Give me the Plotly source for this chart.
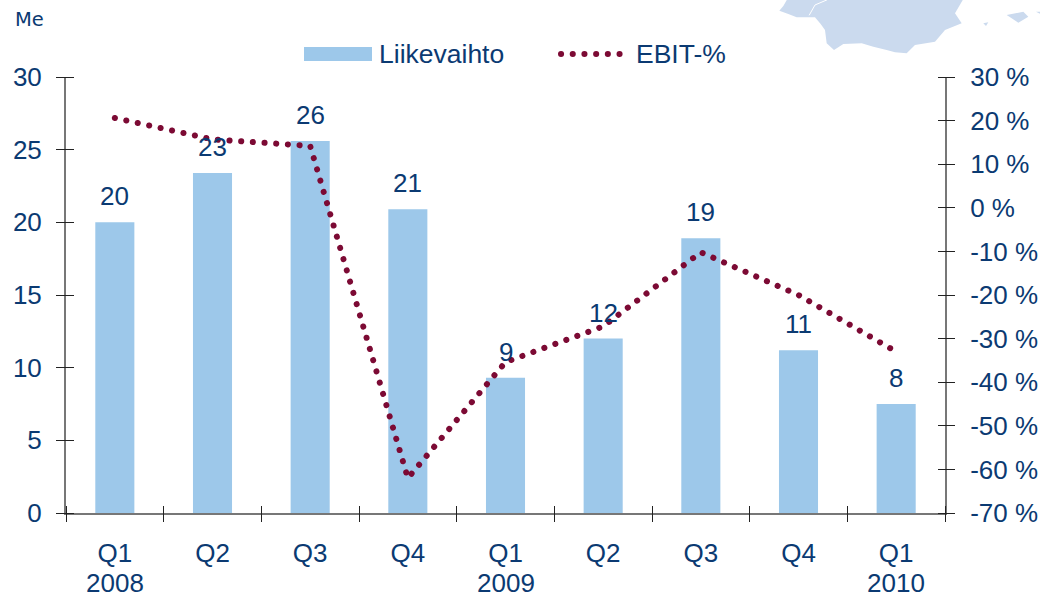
import plotly.graph_objects as go

quarters = ["Q1", "Q2", "Q3", "Q4", "Q1", "Q2", "Q3", "Q4", "Q1"]
years = ["2008", "", "", "", "2009", "", "", "", "2010"]
revenue = [20, 23.4, 25.6, 20.9, 9.3, 12, 18.9, 11.2, 7.5]
ebit_pct = [20.6, 15.7, 14.2, -62, -35.4, -27.2, -10.2, -20, -33]
left_ticks = [0, 5, 10, 15, 20, 25, 30]
right_ticks = [-70, -60, -50, -40, -30, -20, -10, 0, 10, 20, 30]
right_labels = [f"{v} %" for v in right_ticks]

W, H = 1040, 597
L, R, T, B = 66, 945, 77, 513
TXT = "#0b3a72"
AXIS = "#777777"
BAR = "#9dc8ea"
LINE = "#7c0a34"
FONT = "Liberation Sans"
FS = 26
DASH = "0.1px,11.6px"
TICK_IN = 8

pos = list(range(len(quarters)))
edges = [p - 0.5 for p in pos] + [pos[-1] + 0.5]
xrange_ = [edges[0], edges[-1]]


def px(x, y):
    return (x - L) / (R - L), (B - y) / (B - T)


def path(points, close=True):
    out = []
    for i, (x, y) in enumerate(points):
        a, b = px(x, y)
        out.append(("M" if i == 0 else "L") + f"{a:.5f},{b:.5f}")
    return " ".join(out) + (" Z" if close else "")


def zoomed(pts):
    return [(700 + x / 3, y / 3) for x, y in pts]


iberia = zoomed([(262, -3), (250, 18), (238, 32), (265, 42), (290, 52), (345, 52), (362, 72), (375, 90),
                 (380, 130), (402, 150), (430, 132), (485, 130), (520, 140), (560, 150), (585, 157),
                 (620, 160), (645, 135), (705, 125), (735, 90), (785, 70), (765, 40), (790, -3)])
river = zoomed([(380, 0), (345, 15), (328, 45)])
isle = zoomed([(920, 45), (970, 35), (985, 50), (955, 68), (935, 55)])
isle2 = zoomed([(850, 70), (865, 67), (858, 78)])
isle3 = zoomed([(1008, 35), (1022, 35), (1022, 42)])

fig = go.Figure()
fig.add_bar(x=pos, y=revenue, width=0.4, marker=dict(color=BAR, line=dict(width=0)),
            xaxis="x", yaxis="y", showlegend=False)
fig.add_scatter(x=pos, y=ebit_pct, mode="lines", line=dict(color=LINE, width=6, dash=DASH),
                xaxis="x", yaxis="y2", showlegend=False, cliponaxis=False)
# invisible helpers so the free tick-only axes are drawn
for xa, ya, vals in (("x2", "y", revenue), ("x", "y3", revenue), ("x", "y4", ebit_pct)):
    fig.add_scatter(x=pos, y=vals, mode="lines", line=dict(width=0), opacity=0, xaxis=xa, yaxis=ya,
                    showlegend=False, hoverinfo="skip")

shapes = [
    dict(type="path", xref="paper", yref="paper", path=path(p), fillcolor="#cbdaee", line=dict(width=0), layer="below")
    for p in (iberia, isle, isle2, isle3)
]
shapes.append(dict(type="path", xref="paper", yref="paper", path=path(river, False),
                   line=dict(color="white", width=1), layer="below"))
x0, y0 = px(304, 47)
x1, y1 = px(372, 61)
shapes.append(dict(type="rect", xref="paper", yref="paper", x0=x0, y0=y0, x1=x1, y1=y1,
                   fillcolor=BAR, line=dict(width=0)))
x0, y0 = px(561, 54)
x1, _ = px(625, 54)
shapes.append(dict(type="line", xref="paper", yref="paper", x0=x0, y0=y0, x1=x1, y1=y0,
                   line=dict(color=LINE, width=6, dash=DASH)))

annotations = []
for p, v in zip(pos, revenue):
    annotations.append(dict(x=p, y=v, xref="x", yref="y", text=str(round(v)), showarrow=False,
                            yanchor="bottom", yshift=9, font=dict(size=FS, color=TXT, family=FONT)))
for p, yr in zip(pos, years):
    if yr:
        annotations.append(dict(x=p, y=px(0, 582.5)[1], xref="x", yref="paper", text=yr, showarrow=False,
                                yanchor="middle", font=dict(size=FS, color=TXT, family=FONT)))
for text, x, y, size, fam in [("Liikevaihto", 379, 54, 26.5, FONT), ("EBIT-%", 636, 54, 26.5, FONT),
                              ("Me", 15, 19, 19.5, "DejaVu Sans")]:
    a, b = px(x, y)
    annotations.append(dict(x=a, y=b, xref="paper", yref="paper", text=text, showarrow=False,
                            xanchor="left", yanchor="middle", xshift=-2,
                            font=dict(size=size, color=TXT, family=fam)))

tick = dict(ticklen=8, tickwidth=1, tickcolor="#222222", showline=True, linecolor=AXIS, linewidth=2,
            showgrid=False, zeroline=False, automargin=False)
free = dict(ticklen=8 + TICK_IN, tickwidth=1, tickcolor="#222222", showline=False, showgrid=False,
            zeroline=False, automargin=False, showticklabels=False, ticks="outside", anchor="free")
fig.update_layout(
    width=W, height=H, autosize=False,
    margin=dict(l=L, r=W - R, t=T, b=H - B, pad=0, autoexpand=False),
    paper_bgcolor="white", plot_bgcolor="rgba(0,0,0,0)",
    font=dict(family=FONT, size=FS, color=TXT),
    showlegend=False, shapes=shapes, annotations=annotations, bargap=0.6,
    xaxis=dict(range=xrange_, tickmode="array", tickvals=pos, ticktext=quarters, ticks="outside",
               ticklabelstandoff=8, **{**tick, "tickcolor": "rgba(0,0,0,0)"}),
    xaxis2=dict(range=xrange_, tickmode="array", tickvals=edges, overlaying="x",
                position=TICK_IN / (B - T), **free),
    yaxis=dict(range=[0, 30], tickvals=left_ticks, ticks="outside", side="left", ticklabelstandoff=9, **tick),
    yaxis2=dict(range=[-70, 30], tickvals=right_ticks, ticktext=right_labels, ticks="outside", side="right",
                overlaying="y", anchor="x", ticklabelstandoff=10, **tick),
    yaxis3=dict(range=[0, 30], tickvals=left_ticks, side="left", overlaying="y",
                position=TICK_IN / (R - L), **free),
    yaxis4=dict(range=[-70, 30], tickvals=right_ticks, side="right", overlaying="y",
                position=1 - TICK_IN / (R - L), **free),
)

style = ("var s=document.createElement('style');"
         "s.textContent='html,body{margin:0;padding:0;overflow:hidden}.js-line,.shapelayer path{stroke-linecap:round !important}';"
         "document.head.appendChild(s);")
fig.write_html("out.html", post_script=style, config=dict(displayModeBar=False),
               default_width="1040px", default_height="597px")
